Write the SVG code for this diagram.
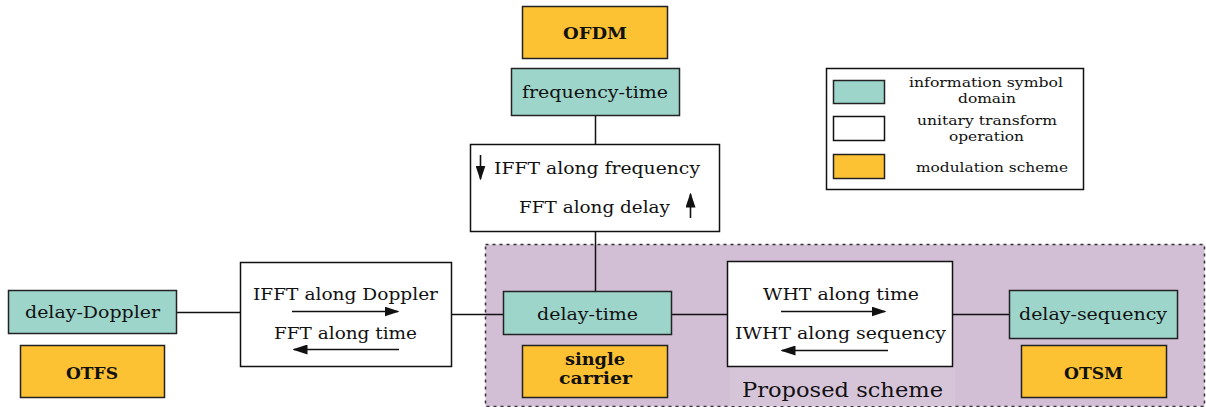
<svg xmlns="http://www.w3.org/2000/svg" width="1206" height="407" viewBox="0 0 1206 407">
  <style>
    .dom { fill: #9dd5cb; stroke: #222; stroke-width: 1.5; }
    .op { fill: #ffffff; stroke: #111; stroke-width: 1.5; }
    .mod { fill: #fdc234; stroke: #222; stroke-width: 1.5; }
    .t { font-family: "DejaVu Serif", "Liberation Serif", serif; font-size: 17.5px; fill: #111; }
    .b { font-family: "DejaVu Serif", "Liberation Serif", serif; font-size: 16px; font-weight: bold; fill: #111; }
    .lg { font-family: "DejaVu Serif", "Liberation Serif", serif; font-size: 13.5px; fill: #111; }
    .wire { stroke: #111; stroke-width: 1.5; fill: none; }
    .arr { stroke: #111; stroke-width: 1.6; fill: none; marker-end: url(#head); }
  </style>
  <defs>
    <marker id="head" viewBox="0 0 10 10" refX="9" refY="5" markerWidth="15" markerHeight="10" markerUnits="userSpaceOnUse" orient="auto" preserveAspectRatio="none">
      <path d="M0,0 L10,5 L0,10 z" fill="#111"/>
    </marker>
  </defs>

  <!-- proposed scheme region -->
  <g id="proposed-region">
    <rect x="485.5" y="244.5" width="719" height="162" fill="#d2bed5" stroke="#333" stroke-width="1.5" stroke-dasharray="3,4"/>
    <rect x="730" y="366" width="225" height="40" fill="#d6c4d9" stroke="none"/>
    <text class="t" x="742" y="397" textLength="201" lengthAdjust="spacingAndGlyphs" style="font-size:20px">Proposed scheme</text>
  </g>

  <!-- connectors -->
  <g id="connectors">
    <line class="wire" x1="595.5" y1="115" x2="595.5" y2="144"/>
    <line class="wire" x1="595.5" y1="231" x2="595.5" y2="292"/>
    <line class="wire" x1="176" y1="312.5" x2="240" y2="312.5"/>
    <line class="wire" x1="451" y1="314.5" x2="503" y2="314.5"/>
    <line class="wire" x1="671" y1="314.5" x2="727" y2="314.5"/>
    <line class="wire" x1="952" y1="314.5" x2="1009" y2="314.5"/>
  </g>

  <g id="ofdm">
    <rect class="mod" x="522.5" y="6.5" width="145" height="52"/>
    <text class="b" x="563" y="39" textLength="64" lengthAdjust="spacingAndGlyphs">OFDM</text>
  </g>

  <g id="frequency-time">
    <rect class="dom" x="511.5" y="68.5" width="168" height="47"/>
    <text class="t" x="522" y="98" textLength="146" lengthAdjust="spacingAndGlyphs">frequency-time</text>
  </g>

  <g id="fft-freq-delay">
    <rect class="op" x="470.5" y="144.5" width="249" height="87"/>
    <text class="t" x="494" y="174" textLength="206" lengthAdjust="spacingAndGlyphs">IFFT along frequency</text>
    <text class="t" x="519" y="213" textLength="151" lengthAdjust="spacingAndGlyphs">FFT along delay</text>
    <line class="arr" x1="480.5" y1="155" x2="480.5" y2="179"/>
    <line class="arr" x1="690.5" y1="218" x2="690.5" y2="194"/>
  </g>

  <g id="delay-doppler">
    <rect class="dom" x="8.5" y="290.5" width="168" height="43"/>
    <text class="t" x="25" y="318" textLength="135" lengthAdjust="spacingAndGlyphs">delay-Doppler</text>
  </g>

  <g id="otfs">
    <rect class="mod" x="20.5" y="345.5" width="144" height="52"/>
    <text class="b" x="66" y="379" textLength="52" lengthAdjust="spacingAndGlyphs">OTFS</text>
  </g>

  <g id="fft-doppler-time">
    <rect class="op" x="240.5" y="262.5" width="211" height="104"/>
    <text class="t" x="253" y="300" textLength="185" lengthAdjust="spacingAndGlyphs">IFFT along Doppler</text>
    <text class="t" x="274" y="339" textLength="143" lengthAdjust="spacingAndGlyphs">FFT along time</text>
    <line class="arr" x1="292" y1="311.5" x2="398" y2="311.5"/>
    <line class="arr" x1="399" y1="349.5" x2="294" y2="349.5"/>
  </g>

  <g id="delay-time">
    <rect class="dom" x="503.5" y="291.5" width="168" height="43"/>
    <text class="t" x="537" y="320" textLength="101" lengthAdjust="spacingAndGlyphs">delay-time</text>
  </g>

  <g id="single-carrier">
    <rect class="mod" x="522.5" y="345.5" width="145" height="52"/>
    <text class="b" x="565" y="365" textLength="60" lengthAdjust="spacingAndGlyphs">single</text>
    <text class="b" x="559" y="384" textLength="73" lengthAdjust="spacingAndGlyphs">carrier</text>
  </g>

  <g id="wht-time-sequency">
    <rect class="op" x="727.5" y="261.5" width="225" height="105"/>
    <text class="t" x="763" y="300" textLength="156" lengthAdjust="spacingAndGlyphs">WHT along time</text>
    <text class="t" x="735" y="339" textLength="211" lengthAdjust="spacingAndGlyphs">IWHT along sequency</text>
    <line class="arr" x1="781" y1="311.5" x2="885" y2="311.5"/>
    <line class="arr" x1="888" y1="350.5" x2="782" y2="350.5"/>
  </g>

  <g id="delay-sequency">
    <rect class="dom" x="1009.5" y="290.5" width="168" height="48"/>
    <text class="t" x="1019" y="320" textLength="148" lengthAdjust="spacingAndGlyphs">delay-sequency</text>
  </g>

  <g id="otsm">
    <rect class="mod" x="1021.5" y="345.5" width="145" height="52"/>
    <text class="b" x="1064" y="379" textLength="59" lengthAdjust="spacingAndGlyphs">OTSM</text>
  </g>

  <g id="legend">
    <rect x="826.5" y="68.5" width="257" height="121" fill="#ffffff" stroke="#111" stroke-width="1.5"/>
    <rect class="dom" x="833.5" y="80.5" width="51" height="23"/>
    <rect class="op" x="833.5" y="116.5" width="51" height="24"/>
    <rect class="mod" x="833.5" y="154.5" width="51" height="24"/>
    <text class="lg" x="909" y="87" textLength="154" lengthAdjust="spacingAndGlyphs">information symbol</text>
    <text class="lg" x="958" y="103" textLength="58" lengthAdjust="spacingAndGlyphs">domain</text>
    <text class="lg" x="917" y="125" textLength="140" lengthAdjust="spacingAndGlyphs">unitary transform</text>
    <text class="lg" x="949" y="141" textLength="75" lengthAdjust="spacingAndGlyphs">operation</text>
    <text class="lg" x="916" y="172" textLength="152" lengthAdjust="spacingAndGlyphs">modulation scheme</text>
  </g>
</svg>
